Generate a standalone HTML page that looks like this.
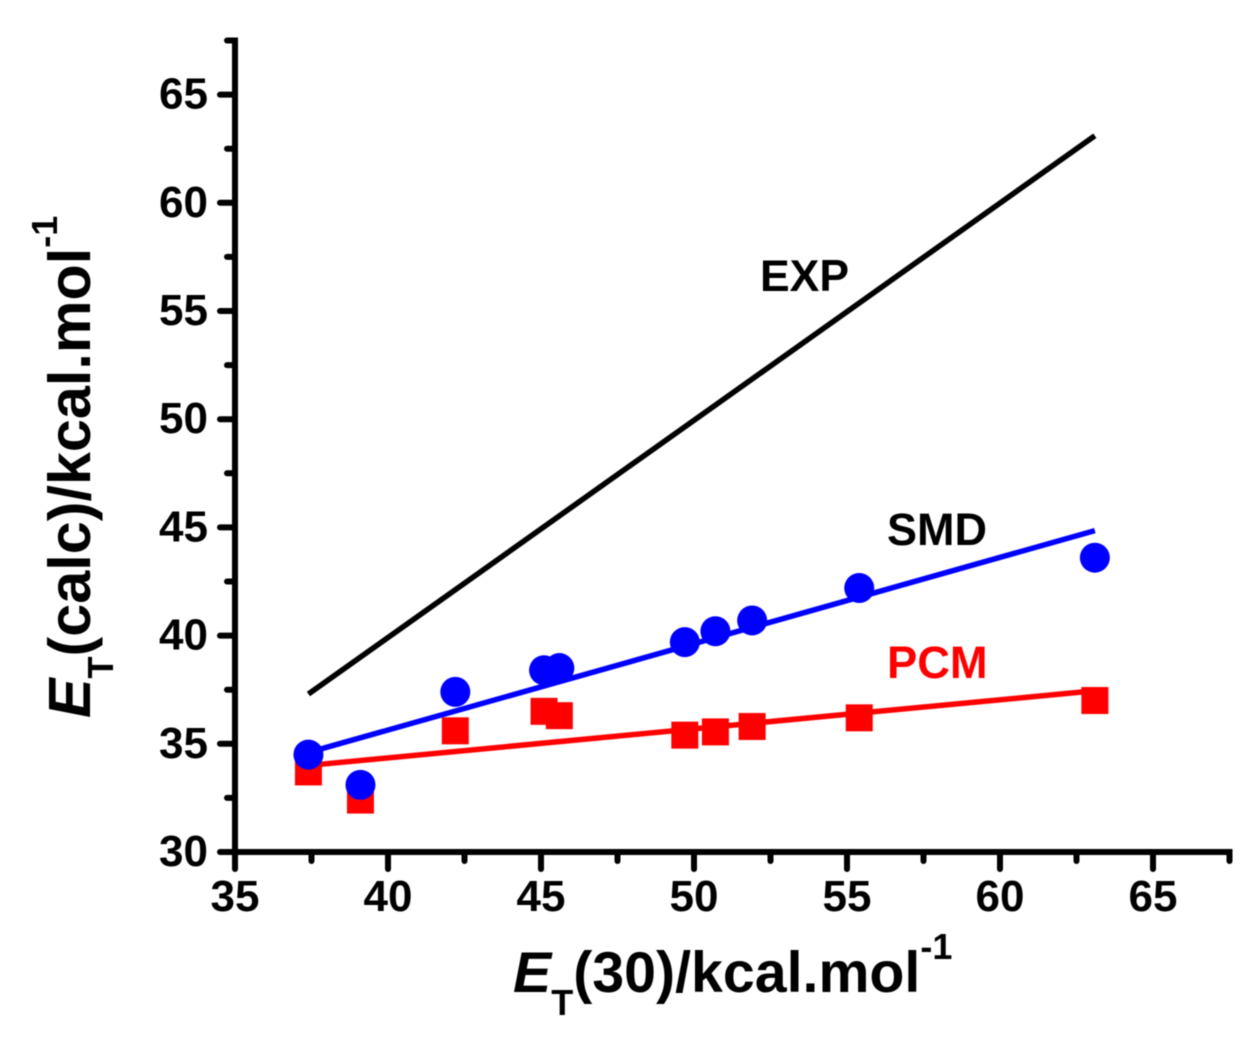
<!DOCTYPE html>
<html lang="en">
<head>
<meta charset="utf-8">
<title>ET(calc) vs ET(30)</title>
<style>
  html, body { margin: 0; padding: 0; background: #fff; }
  svg { display: block; filter: blur(0.6px); }
  text { font-family: "Liberation Sans", Arial, sans-serif; font-weight: bold; fill: #000; }
</style>
</head>
<body>
<svg id="chart" xmlns="http://www.w3.org/2000/svg" width="1257" height="1040" viewBox="0 0 1257 1040">
  <g id="axes"></g>
  <g id="series"></g>
  <text x="760" y="291" font-size="44.5">EXP</text>
  <text x="887" y="545" font-size="45">SMD</text>
  <text x="887" y="678" font-size="45.3" style="fill:#f00">PCM</text>
  <text x="513" y="992" font-size="57.3"><tspan font-style="italic">E</tspan><tspan font-size="36" dy="23">T</tspan><tspan dy="-23">(30)/kcal.mol</tspan><tspan font-size="36" dy="-33">-1</tspan></text>
  <text transform="translate(90 718) rotate(-90)" x="0" y="0" font-size="59.3"><tspan font-style="italic">E</tspan><tspan font-size="36" dy="23">T</tspan><tspan dy="-23">(calc)/kcal.mol</tspan><tspan font-size="36" dy="-33">-1</tspan></text>
</svg>
<script>
// Chart data
var solventX = [37.4, 39.1, 42.2, 45.1, 45.6, 49.7, 50.7, 51.9, 55.4, 63.1];
var smdValues = [34.5, 33.1, 37.4, 38.4, 38.5, 39.7, 40.2, 40.7, 42.2, 43.6];
var pcmValues = [33.7, 32.4, 35.6, 36.5, 36.3, 35.4, 35.55, 35.8, 36.2, 37.0];
var fitX = [37.4, 63.1];
var expLine = [37.3, 63.1];
var smdFit = [34.6, 44.85];
var pcmFit = [34.0, 37.45];
var xTickLabels = [35, 40, 45, 50, 55, 60, 65];
var yTickLabels = [30, 35, 40, 45, 50, 55, 60, 65];
var xMinorTicks = [37.5, 42.5, 47.5, 52.5, 57.5, 62.5, 67.5];
var yMinorTicks = [32.5, 37.5, 42.5, 47.5, 52.5, 57.5, 62.5, 67.5];

// Axis functions
function xScale(v) { return 235 + (v - 35) * 30.6; }
function yScale(v) { return 852 - (v - 30) * 21.64; }

var NS = 'http://www.w3.org/2000/svg';
var axes = document.getElementById('axes');
var series = document.getElementById('series');

function make(tag, parent, attrs) {
  var el = document.createElementNS(NS, tag);
  for (var k in attrs) { el.setAttribute(k, attrs[k]); }
  parent.appendChild(el);
  return el;
}

var el;

// Axis lines
el = make('line', axes, { x1: xScale(35), y1: yScale(67.5) - 3, x2: xScale(35), y2: yScale(30) + 3, stroke: '#000', 'stroke-width': 6 });


el = make('line', axes, { x1: xScale(35) - 3, y1: yScale(30), x2: xScale(67.5) + 3, y2: yScale(30), stroke: '#000', 'stroke-width': 6 });



// X ticks
xTickLabels.forEach(function (v) {
  var x = xScale(v);
  var t = make('line', axes, { x1: x, y1: yScale(30), x2: x, y2: yScale(30) + 17, stroke: '#000', 'stroke-width': 6, 'stroke-linecap': 'round' });
  
  
  var l = make('text', axes, { x: x, y: 911, 'font-size': 44, 'text-anchor': 'middle' });
  l.textContent = String(v);
  
  
});
xMinorTicks.forEach(function (v) {
  var x = xScale(v);
  var t = make('line', axes, { x1: x, y1: yScale(30), x2: x, y2: yScale(30) + 9, stroke: '#000', 'stroke-width': 6, 'stroke-linecap': 'round' });
  
  
});

// Y ticks
yTickLabels.forEach(function (v) {
  var y = yScale(v);
  var t = make('line', axes, { x1: xScale(35), y1: y, x2: xScale(35) - 15, y2: y, stroke: '#000', 'stroke-width': 6, 'stroke-linecap': 'round' });
  
  
  var l = make('text', axes, { x: 208, y: y + 14, 'font-size': 44, 'text-anchor': 'end' });
  l.textContent = String(v);
  
  
});
yMinorTicks.forEach(function (v) {
  var y = yScale(v);
  var t = make('line', axes, { x1: xScale(35), y1: y, x2: xScale(35) - 8, y2: y, stroke: '#000', 'stroke-width': 6, 'stroke-linecap': 'round' });
  
  
});

// Fit lines
el = make('line', series, { x1: xScale(fitX[0]), y1: yScale(expLine[0]), x2: xScale(fitX[1]), y2: yScale(expLine[1]), stroke: '#000', 'stroke-width': 5.5 });


el = make('line', series, { x1: xScale(fitX[0]), y1: yScale(pcmFit[0]), x2: xScale(fitX[1]), y2: yScale(pcmFit[1]), stroke: '#f00', 'stroke-width': 5.5 });



// PCM squares
pcmValues.forEach(function (v, i) {
  var s = make('rect', series, { x: xScale(solventX[i]) - 13.5, y: yScale(v) - 13.5, width: 27, height: 27, fill: '#f00' });
  
  
});

// SMD fit line and circles
el = make('line', series, { x1: xScale(fitX[0]), y1: yScale(smdFit[0]), x2: xScale(fitX[1]), y2: yScale(smdFit[1]), stroke: '#00f', 'stroke-width': 5.5 });


smdValues.forEach(function (v, i) {
  var c = make('circle', series, { cx: xScale(solventX[i]), cy: yScale(v), r: 15, fill: '#00f' });
  
  
});
</script>
</body>
</html>
